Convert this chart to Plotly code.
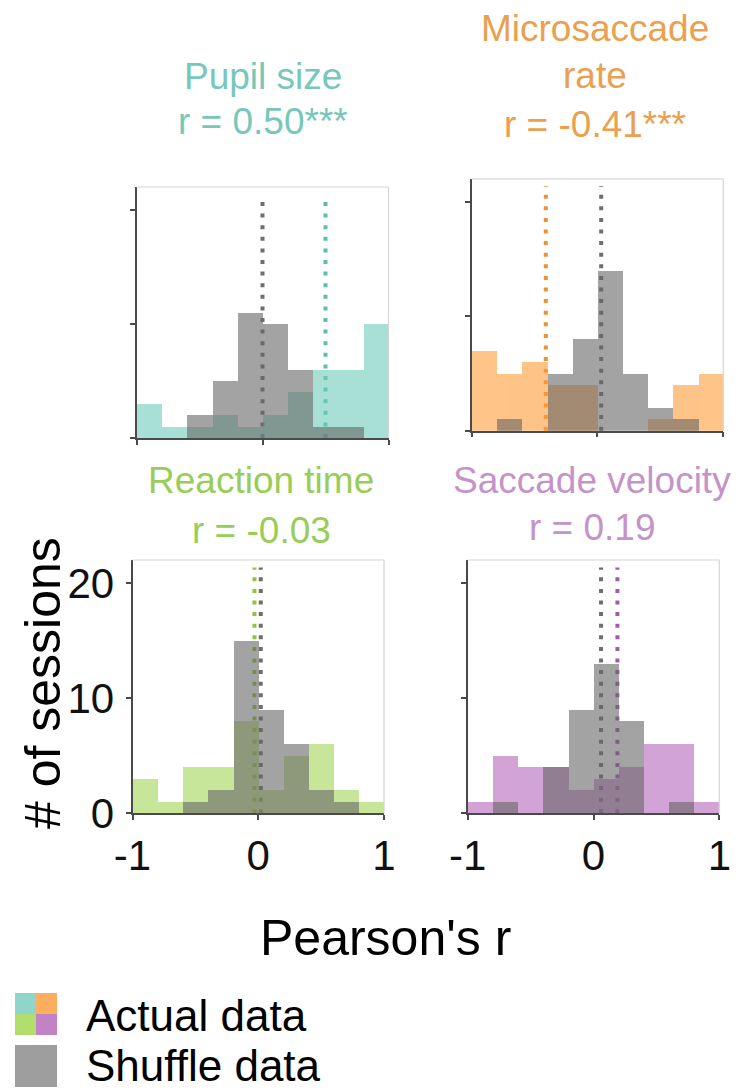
import plotly.graph_objects as go

W, H = 742, 1090

# ---------------- data ----------------
bin_centers = [-0.9, -0.7, -0.5, -0.3, -0.1, 0.1, 0.3, 0.5, 0.7, 0.9]
bin_width = 0.2

pupil_actual = [3, 1, 1, 2, 1, 2, 4, 6, 6, 10]
pupil_shuffle = [0, 0, 2, 5, 11, 10, 6, 1, 1, 0]
micro_actual = [7, 5, 6, 4, 4, 0, 0, 1, 4, 5]
micro_shuffle = [0, 1, 0, 5, 8, 14, 5, 2, 1, 0]
rt_actual = [3, 1, 4, 4, 8, 2, 5, 6, 2, 1]
rt_shuffle = [0, 0, 1, 2, 15, 9, 6, 2, 1, 0]
vel_actual = [1, 5, 4, 4, 2, 3, 4, 6, 6, 1]
vel_shuffle = [0, 1, 0, 4, 9, 13, 8, 0, 1, 0]

panel_names = ["Pupil size", "Microsaccade rate", "Reaction time", "Saccade velocity"]
title_lines = [["Pupil size", "r = 0.50***"],
               ["Microsaccade", "rate", "r = -0.41***"],
               ["Reaction time", "r = -0.03"],
               ["Saccade velocity", "r = 0.19"]]
r_actual = [0.50, -0.41, -0.03, 0.19]
r_shuffle = [0.00, 0.03, 0.02, 0.06]

x_ticks = [-1, 0, 1]
y_ticks = [0, 10, 20]

# ---------------- styles ----------------
FONT = "Liberation Sans, Arial, Helvetica, sans-serif"
bar_colors = ["#6ecbb9", "#fd9d39", "#a3d557", "#b666bb"]
line_colors = ["#5cbfad", "#ee9133", "#8cc63f", "#a45aab"]
title_colors = ["#79c7b9", "#eba04f", "#99cd57", "#c493c8"]
legend_colors = ["#8fd5cb", "#fdae5f", "#b2de6e", "#c183c6"]
gray_bar = "#666666"
gray_line = "#6e6e6e"
axis_col = "#4a4a4a"
box_col = "#d6d6d6"
OPA = 0.6

# plot areas in pixels: (x0, x1, ytop, ybottom)
areas = [(136.5, 388.5, 187.0, 438.0),
         (471.5, 723.3, 178.8, 430.7),
         (132.5, 384.0, 560.0, 813.3),
         (467.7, 719.3, 560.0, 813.3)]

actual = [pupil_actual, micro_actual, rt_actual, vel_actual]
shuffle = [pupil_shuffle, micro_shuffle, rt_shuffle, vel_shuffle]

fig = go.Figure()
shapes = []
annotations = []

for i in range(4):
    ax = "" if i == 0 else str(i + 1)
    xr, yr = "x" + ax, "y" + ax
    fig.add_trace(go.Bar(x=bin_centers, y=actual[i], width=bin_width,
                         marker=dict(color=bar_colors[i], line=dict(width=0)),
                         opacity=OPA, xaxis=xr, yaxis=yr, showlegend=False,
                         name=panel_names[i] + " actual"))
    fig.add_trace(go.Bar(x=bin_centers, y=shuffle[i], width=bin_width,
                         marker=dict(color=gray_bar, line=dict(width=0)),
                         opacity=OPA, xaxis=xr, yaxis=yr, showlegend=False,
                         name=panel_names[i] + " shuffle"))
    x0, x1, yt, yb = areas[i]
    bottom_row = i >= 2
    fig.update_layout(**{
        "xaxis" + ax: dict(domain=[x0 / W, x1 / W], range=[-1, 1], anchor=yr,
                           tickvals=x_ticks, ticktext=[str(v) for v in x_ticks],
                           showticklabels=bottom_row, ticks="outside", ticklen=5,
                           tickwidth=1.5, tickcolor=axis_col, showline=True,
                           linecolor=axis_col, linewidth=1.5, showgrid=False,
                           zeroline=False, fixedrange=True, automargin=False,
                           tickfont=dict(family=FONT, size=42, color="#111111")),
        "yaxis" + ax: dict(domain=[1 - yb / H, 1 - yt / H], range=[0, 22], anchor=xr,
                           tickvals=y_ticks, ticktext=[str(v) for v in y_ticks],
                           showticklabels=(i == 2), ticks="outside", ticklen=5,
                           tickwidth=1.5, tickcolor=axis_col, showline=True,
                           linecolor=axis_col, linewidth=2, showgrid=False,
                           zeroline=False, fixedrange=True, ticklabelstandoff=3,
                           automargin=False,
                           tickfont=dict(family=FONT, size=42, color="#111111")),
    })
    # light box on top/right
    shapes.append(dict(type="line", xref=xr + " domain", yref=yr + " domain",
                       x0=0, x1=1, y0=1, y1=1, line=dict(color=box_col, width=1.2)))
    shapes.append(dict(type="line", xref=xr + " domain", yref=yr + " domain",
                       x0=1, x1=1, y0=0, y1=1, line=dict(color=box_col, width=1.2)))
    # dotted mean lines (below bars)
    shapes.append(dict(type="line", xref=xr, yref=yr + " domain", layer="below",
                       x0=r_shuffle[i], x1=r_shuffle[i], y0=0, y1=0.97,
                       line=dict(color=gray_line, width=4, dash="4px,7.6px")))
    shapes.append(dict(type="line", xref=xr, yref=yr + " domain", layer="below",
                       x0=r_actual[i], x1=r_actual[i], y0=0, y1=0.97,
                       line=dict(color=line_colors[i], width=4, dash="4px,7.6px")))

# titles
title_pos = [
    (263, [77, 122]),
    (595, [29, 75, 124]),
    (261, [480, 530]),
    (592, [480, 527]),
]
for i, (cx, ys) in enumerate(title_pos):
    for txt, yy in zip(title_lines[i], ys):
        annotations.append(dict(text=txt, x=cx / W, y=1 - yy / H, xref="paper", yref="paper",
                                xanchor="center", yanchor="middle", showarrow=False,
                                font=dict(family=FONT, size=37, color=title_colors[i])))

# axis titles
annotations.append(dict(text="# of sessions", x=43 / W, y=1 - 683 / H, xref="paper",
                        yref="paper", textangle=-90, xanchor="center", yanchor="middle",
                        showarrow=False, font=dict(family=FONT, size=50, color="#000000")))
annotations.append(dict(text="Pearson's r", x=385 / W, y=1 - 938 / H, xref="paper",
                        yref="paper", xanchor="center", yanchor="middle",
                        showarrow=False, font=dict(family=FONT, size=50, color="#000000")))

# legend (custom)
q = 21
lx, ly = 15, 993
quad = [(0, 0, legend_colors[0]), (1, 0, legend_colors[1]),
        (0, 1, legend_colors[2]), (1, 1, legend_colors[3])]
for cx_, cy_, col in quad:
    shapes.append(dict(type="rect", xref="paper", yref="paper",
                       x0=(lx + cx_ * q) / W, x1=(lx + (cx_ + 1) * q) / W,
                       y0=1 - (ly + (cy_ + 1) * q) / H, y1=1 - (ly + cy_ * q) / H,
                       line=dict(width=0), fillcolor=col))
shapes.append(dict(type="rect", xref="paper", yref="paper",
                   x0=lx / W, x1=(lx + 2 * q) / W,
                   y0=1 - (1045 + 2 * q) / H, y1=1 - 1045 / H,
                   line=dict(width=0), fillcolor="#9e9e9e"))
annotations.append(dict(text="Actual data", x=84 / W, y=1 - 1015.5 / H, xref="paper",
                        yref="paper", xanchor="left", yanchor="middle", showarrow=False,
                        font=dict(family=FONT, size=44, color="#000000")))
annotations.append(dict(text="Shuffle data", x=84 / W, y=1 - 1065.5 / H, xref="paper",
                        yref="paper", xanchor="left", yanchor="middle", showarrow=False,
                        font=dict(family=FONT, size=44, color="#000000")))

fig.update_layout(width=W, height=H, margin=dict(l=0, r=0, t=0, b=0, autoexpand=False),
                  paper_bgcolor="white", plot_bgcolor="rgba(0,0,0,0)",
                  barmode="overlay", bargap=0, shapes=shapes, annotations=annotations,
                  font=dict(family=FONT), showlegend=False)

fig.write_html("out.html", config={"displayModeBar": False})
